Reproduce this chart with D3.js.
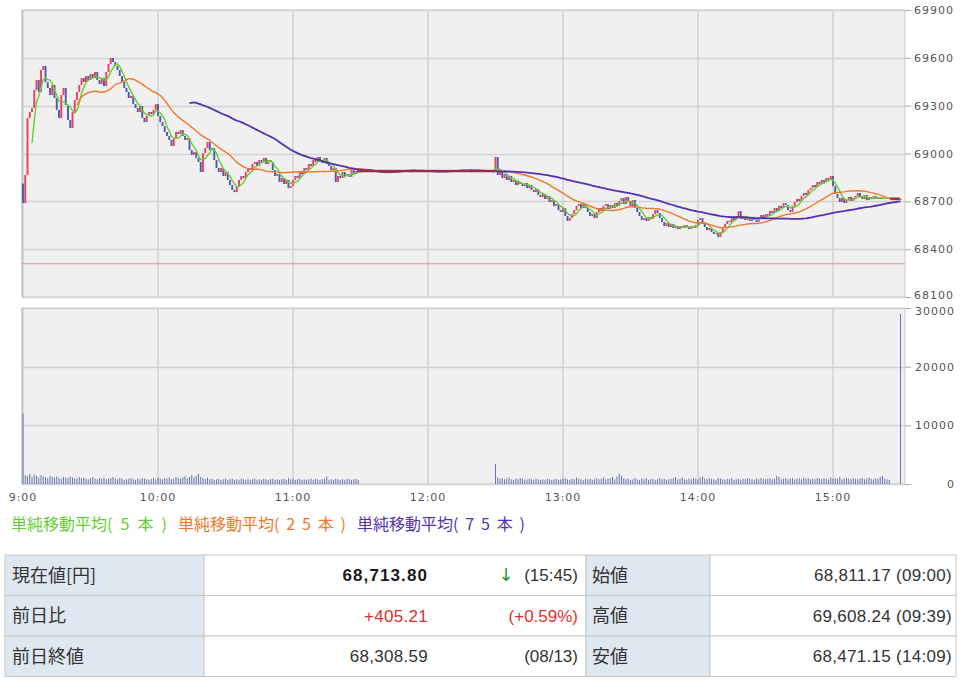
<!DOCTYPE html>
<html>
<head>
<meta charset="utf-8">
<script src="https://cdn.jsdelivr.net/npm/d3@7"></script>
<style>
  body { margin: 0; background: #fff; }
  svg { display: block; font-family: "Noto Sans CJK JP", sans-serif; }
</style>
</head>
<body>
<svg id="chart" width="963" height="683"></svg>
<script>
// 1分足の終値 (9:00-11:29)
const amCloses = [68689,68865,69223,69260,69285,69398,69461,69386,69524,69549,
  69448,69411,69367,69430,69348,69273,69223,69367,69411,69304,
  69210,69160,69260,69336,69386,69430,69473,69448,69486,69461,
  69499,69473,69511,69461,69436,69473,69423,69511,69561,69599,
  69574,69549,69524,69486,69448,69411,69386,69348,69361,69310,
  69285,69260,69298,69223,69197,69235,69260,69248,69273,69310,
  69235,69197,69172,69135,69110,69085,69047,69097,69135,69122,
  69147,69110,69085,69097,69022,68991,69009,68972,68947,68884,
  69003,69034,69072,69022,69034,68959,68909,68884,68909,68859,
  68884,68834,68802,68771,68758,68796,68834,68859,68846,68884,
  68909,68896,68934,68947,68922,68959,68947,68972,68934,68959,
  68947,68896,68859,68871,68821,68846,68809,68834,68783,68796,
  68834,68859,68846,68884,68871,68909,68896,68934,68922,68959,
  68947,68978,68959,68940,68972,68934,68922,68896,68909,68821,
  68859,68846,68884,68859,68871,68853,68896,68871,68890,68890];

// 昼休み (11:30-12:29) は値動きなし
const lunchCloses = [68890,68890,68890,68890,68890,68890,68890,68890,68890,68890,
  68890,68890,68890,68890,68890,68890,68890,68890,68890,68890,
  68890,68890,68890,68890,68890,68890,68890,68890,68890,68890,
  68890,68890,68890,68890,68890,68890,68890,68890,68890,68890,
  68890,68890,68890,68890,68890,68890,68890,68890,68890,68890,
  68890,68890,68890,68890,68890,68890,68890,68890,68890,68890];

// 12:30-15:30
const pmCloses = [68978,68865,68884,68846,68871,68834,68859,68821,68834,68802,
  68821,68809,68796,68815,68783,68802,68771,68758,68777,68740,
  68727,68746,68715,68733,68696,68708,68671,68683,68645,68633,
  68658,68608,68577,68595,68620,68645,68671,68683,68658,68683,
  68658,68633,68608,68620,68595,68633,68658,68639,68671,68683,
  68652,68677,68658,68689,68671,68702,68721,68683,68727,68696,
  68671,68708,68658,68633,68608,68583,68595,68577,68602,68589,
  68620,68645,68627,68595,68570,68545,68564,68539,68558,68533,
  68545,68526,68545,68533,68551,68539,68526,68545,68533,68551,
  68583,68595,68558,68539,68520,68533,68508,68495,68501,68476,
  68508,68533,68558,68577,68570,68595,68583,68608,68639,68589,
  68608,68583,68595,68577,68602,68583,68570,68595,68614,68589,
  68620,68608,68639,68627,68658,68639,68671,68658,68689,68677,
  68645,68633,68671,68696,68715,68702,68733,68752,68740,68771,
  68783,68802,68790,68821,68809,68834,68821,68846,68834,68859,
  68796,68746,68721,68696,68721,68689,68708,68727,68702,68721,
  68733,68752,68727,68715,68740,68708,68727,68715,68733,68715,
  68727,68715,68721,68715,68721,68715,68715,68715,68715,68715,
  68713.8];

// 出来高
const amVolumes = [12000,
  1500,1300,1700,1200,1600,1400,1100,1500,1300,1200,1000,1400,1200,1100,1300,1000,900,1200,1100,1000,
  1300,1100,1000,900,1200,1000,1100,900,800,1000,1200,900,800,1000,900,1100,800,900,1000,1200,
  900,800,1000,900,700,800,900,1000,800,700,900,800,1000,900,800,700,900,1000,800,1100,
  900,800,1000,900,1100,800,900,1200,1000,900,1100,1300,1000,1200,1500,1100,1400,1700,1200,1000,
  900,1100,800,900,700,800,900,700,800,900,700,800,900,700,800,700,900,800,700,800,
  700,800,900,700,800,700,900,800,700,800,900,700,800,700,800,900,700,1000,800,900,
  700,800,900,700,800,700,800,900,700,900,800,700,800,900,1300,700,800,700,900,800,
  700,800,700,900,800,700,800,900,700];

const pmVolumes = [3400,
  1100,900,1000,800,900,1100,800,700,900,800,1000,900,700,800,900,800,700,900,800,700,
  800,700,900,800,700,800,900,700,800,900,1000,800,700,900,800,1100,900,800,700,900,
  800,900,700,800,1000,800,900,1100,800,900,1000,1200,800,1300,1800,1400,1000,800,900,700,
  800,1000,800,700,900,800,1000,700,800,900,700,800,1000,800,900,700,800,900,1000,1200,
  800,900,1100,800,700,900,800,1000,900,800,1100,1300,900,800,1000,900,800,700,1000,900,
  800,700,900,800,1000,700,800,900,700,900,800,1000,900,800,700,900,800,1000,900,800,
  900,1000,800,900,1400,1200,800,900,1000,800,900,1000,800,900,1000,800,1100,900,1000,800,
  900,800,1000,900,800,1000,900,800,1100,900,1000,900,1200,800,900,1000,900,800,1000,900,
  800,900,1000,800,900,1100,900,800,1000,900,1200,1400,900,800,700,
  0,0,0,0,29000];

const openPrice = 68811.17;
const prevClose = 68308.59;
const pmStartMinute = 210;

const priceTicks = [68100, 68400, 68700, 69000, 69300, 69600, 69900];
const volumeTicks = [0, 10000, 20000, 30000];
const timeLabels = ["9:00", "10:00", "11:00", "12:00", "13:00", "14:00", "15:00"];

const maPeriods = [5, 25, 75];
const maColors = ["#66cc33", "#f07828", "#5533b0"];
const maLabels = ["単純移動平均(5本)", "単純移動平均(25本)", "単純移動平均(75本)"];

const tableLabelsLeft = ["現在値[円]", "前日比", "前日終値"];
const tableValues = ["68,713.80", "+405.21", "68,308.59"];
const tableNotes = ["(15:45)", "(+0.59%)", "(08/13)"];
const tableLabelsRight = ["始値", "高値", "安値"];
const tableRightValues = ["68,811.17 (09:00)", "69,608.24 (09:39)", "68,471.15 (14:09)"];

const svg = d3.select("#chart");

// 描画領域
const pane = { left: 22, right: 905 };
const pricePane = { top: 10, bottom: 297 };
const volPane = { top: 308, bottom: 484 };

const x = d3.scaleLinear().domain([0, 392]).range([23, 905]);
const y = d3.scaleLinear().domain([68100, 69900]).range([pricePane.bottom, pricePane.top]);
const yv = d3.scaleLinear().domain([0, 30000]).range([volPane.bottom, volPane.top]);

const closes = amCloses.concat(lunchCloses, pmCloses);
const bars = closes.map((c, i) => ({
  m: i,
  open: i === 0 ? openPrice : closes[i - 1],
  close: c,
}));
const volBars = amVolumes.map((v, i) => ({ m: i, v }))
  .concat(pmVolumes.map((v, i) => ({ m: pmStartMinute + i, v })));

// パネル背景と格子
const drawPane = (p, ticks, scale) => {
  svg.append("rect")
    .attr("x", pane.left).attr("y", p.top)
    .attr("width", pane.right - pane.left).attr("height", p.bottom - p.top)
    .attr("fill", "#f0f0f0").attr("stroke", "#cdcdcd");

  svg.append("g").selectAll("line").data(ticks).join("line")
    .attr("x1", pane.left).attr("x2", pane.right)
    .attr("y1", (d) => Math.round(scale(d)) + 0.5).attr("y2", (d) => Math.round(scale(d)) + 0.5)
    .attr("stroke", "#d2d2d2").attr("stroke-width", 1.5);

  svg.append("g").selectAll("line").data(timeLabels.slice(1)).join("line")
    .attr("x1", (d, i) => x((i + 1) * 60)).attr("x2", (d, i) => x((i + 1) * 60))
    .attr("y1", p.top).attr("y2", p.bottom)
    .attr("stroke", "#d2d2d2").attr("stroke-width", 1.5);

  svg.append("line")
    .attr("x1", pane.left + 0.5).attr("x2", pane.left + 0.5)
    .attr("y1", p.top).attr("y2", p.bottom)
    .attr("stroke", "#c4c4c4").attr("stroke-width", 2);
};

drawPane(pricePane, priceTicks, y);
drawPane(volPane, volumeTicks, yv);

// 前日終値ライン
svg.append("line")
  .attr("x1", pane.left).attr("x2", pane.right)
  .attr("y1", y(prevClose)).attr("y2", y(prevClose))
  .attr("stroke", "#f08a8a").attr("stroke-width", 1.2);

// ローソク足
const candleW = 1.9;
svg.append("g").selectAll("rect").data(bars.filter((d) => d.open !== d.close)).join("rect")
  .attr("x", (d) => x(d.m) - candleW / 2)
  .attr("width", candleW)
  .attr("y", (d) => y(Math.max(d.open, d.close)))
  .attr("height", (d) => Math.max(1, Math.abs(y(d.open) - y(d.close))))
  .attr("fill", (d) => (d.close > d.open ? "#f03c5a" : "#4a5aae"));

// 移動平均
const sma = (n) => closes.map((c, i) => (i < n - 1 ? null : d3.mean(closes.slice(i - n + 1, i + 1))));
const line = d3.line()
  .defined((d) => d != null)
  .x((d, i) => x(i))
  .y((d) => y(d));

maPeriods.forEach((n, k) => {
  svg.append("path")
    .datum(sma(n))
    .attr("d", line)
    .attr("fill", "none")
    .attr("stroke", maColors[k])
    .attr("stroke-width", k === 2 ? 1.8 : 1.4);
});

// 値動きなしの足
svg.append("g").selectAll("rect").data(bars.filter((d) => d.open === d.close)).join("rect")
  .attr("x", (d) => x(d.m) - 1.2)
  .attr("width", 2.4)
  .attr("y", (d) => y(d.close) - 1.2)
  .attr("height", 2.4)
  .attr("fill", "#a02848");

// 出来高
svg.append("g").selectAll("rect").data(volBars.filter((d) => d.v > 0)).join("rect")
  .attr("x", (d) => x(d.m) - 0.5)
  .attr("width", 1)
  .attr("y", (d) => yv(d.v))
  .attr("height", (d) => yv(0) - yv(d.v))
  .attr("fill", "#6a72ae");

// 右側の目盛
const styleAxis = (g) => {
  g.select(".domain").remove();
  g.selectAll(".tick line").attr("stroke", "#aaa");
  g.selectAll(".tick text")
    .attr("fill", "#555")
    .style("font-family", "DejaVu Sans, sans-serif")
    .style("font-size", "11px")
    .style("letter-spacing", "1px");
};

svg.append("g")
  .attr("transform", `translate(${pane.right},0)`)
  .call(d3.axisRight(y).tickValues(priceTicks).tickSize(6).tickPadding(3).tickFormat(d3.format("d")))
  .call(styleAxis)
  .selectAll(".tick text")
  .attr("dy", (d) => (d === 68100 ? "0.1em" : "0.32em"));

svg.append("g")
  .attr("transform", `translate(${pane.right},0)`)
  .call(d3.axisRight(yv).tickValues(volumeTicks).tickSize(6).tickPadding(3).tickFormat(d3.format("d")))
  .call(styleAxis)
  .selectAll(".tick text")
  .attr("text-anchor", "end")
  .attr("x", 50)
  .attr("dy", (d) => (d === 30000 ? "0.55em" : "0.32em"));

// 時刻ラベル
svg.append("g").selectAll("text").data(timeLabels).join("text")
  .attr("x", (d, i) => x(i * 60))
  .attr("y", 501)
  .attr("text-anchor", "middle")
  .attr("fill", "#555")
  .style("font-family", "DejaVu Sans, sans-serif")
  .style("font-size", "11px")
  .style("letter-spacing", "1px")
  .text((d) => d);

// 凡例
const legendX = [11, 178, 357];
const legendParenW = [60, 72, 72];
const legend = svg.append("g").selectAll("text").data(maLabels).join("text")
  .attr("x", (d, i) => legendX[i])
  .attr("y", 530)
  .attr("fill", (d, i) => maColors[i])
  .style("font-size", "16px");
legend.append("tspan").text((d) => d.slice(0, d.indexOf("(")));
legend.append("tspan")
  .attr("textLength", (d, i) => legendParenW[i])
  .attr("lengthAdjust", "spacing")
  .text((d) => d.slice(d.indexOf("(")));

// 下の表
const tableTop = 555;
const rowH = 40.5;
const cols = [5, 204, 586, 710, 956];
const table = svg.append("g");

[0, 1, 2].forEach((r) => {
  const ty = tableTop + r * rowH;
  [0, 1, 2, 3].forEach((c) => {
    table.append("rect")
      .attr("x", cols[c]).attr("y", ty)
      .attr("width", cols[c + 1] - cols[c]).attr("height", rowH)
      .attr("fill", c % 2 === 0 ? "#dfe8f0" : "#fff")
      .attr("stroke", "#c8c8c8");
  });
  const base = ty + rowH / 2 + 6.5;
  table.append("text").attr("x", 12).attr("y", base)
    .attr("fill", "#333").style("font-size", "18px").text(tableLabelsLeft[r]);
  table.append("text").attr("x", 592).attr("y", base)
    .attr("fill", "#333").style("font-size", "18px").text(tableLabelsRight[r]);

  const valColor = r === 1 ? "#e03030" : "#333";
  table.append("text").attr("x", 428).attr("y", base - 0.5)
    .attr("text-anchor", "end")
    .attr("fill", r === 0 ? "#1a1a1a" : valColor)
    .style("font-family", "Liberation Sans, sans-serif")
    .style("font-size", "17px")
    .style("font-weight", r === 0 ? "bold" : "normal")
    .style("letter-spacing", r === 0 ? "1.1px" : "0.3px")
    .text(tableValues[r]);
  table.append("text").attr("x", 578).attr("y", base - 0.5)
    .attr("text-anchor", "end")
    .attr("fill", valColor)
    .style("font-family", "Liberation Sans, sans-serif")
    .style("font-size", "17px")
    .text(tableNotes[r]);
  table.append("text").attr("x", 952).attr("y", base - 0.5)
    .attr("text-anchor", "end")
    .attr("fill", "#333")
    .style("font-family", "Liberation Sans, sans-serif")
    .style("font-size", "17px")
    .style("letter-spacing", "0.3px")
    .text(tableRightValues[r]);
});

// 下落矢印
table.append("text").attr("x", 506).attr("y", tableTop + rowH / 2 + 6)
  .attr("text-anchor", "middle")
  .attr("fill", "#2a9a2a")
  .style("font-family", "DejaVu Sans, sans-serif")
  .style("font-size", "18px")
  .text("↓");
</script>
</body>
</html>
